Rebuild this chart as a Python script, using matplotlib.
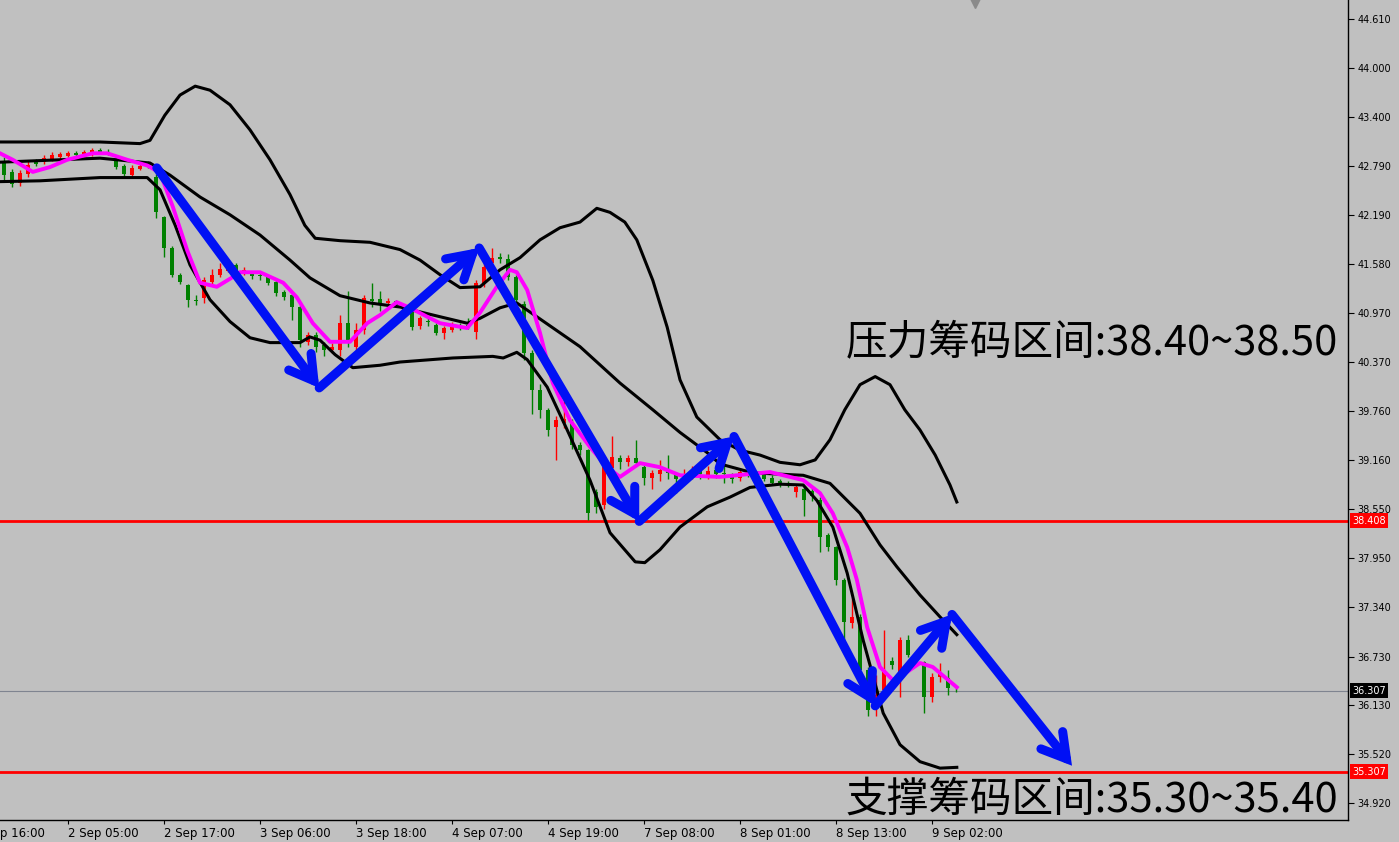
import matplotlib
matplotlib.use("Agg")
from matplotlib import pyplot as plt
from matplotlib import transforms

# H1 candles, bar index 0..119
opens = [42.85, 42.72, 42.58, 42.69, 42.84, 42.84, 42.88, 42.90, 42.92, 42.95,
         42.93, 42.94, 42.99, 42.97, 42.88, 42.79, 42.68, 42.76, 42.82, 42.66,
         42.16, 41.78, 41.45, 41.32, 41.14, 41.16, 41.36, 41.44, 41.50, 41.57,
         41.47, 41.48, 41.45, 41.42, 41.36, 41.24, 41.20, 41.05, 40.62, 40.70,
         40.58, 40.52, 40.52, 40.85, 40.56, 40.77, 41.15, 41.15, 41.10, 41.12,
         41.05, 40.99, 40.81, 40.88, 40.83, 40.73, 40.77, 40.82, 40.83, 40.74,
         41.35, 41.59, 41.67, 41.64, 41.42, 41.09, 40.48, 40.02, 39.78, 39.57,
         39.62, 39.63, 39.34, 39.28, 38.76, 38.60, 39.06, 39.18, 39.13, 39.18,
         39.07, 38.94, 38.98, 39.05, 38.97, 38.94, 38.97, 39.02, 38.97, 39.03,
         39.00, 38.97, 38.94, 39.00, 38.99, 38.97, 38.94, 38.90, 38.87, 38.76,
         38.80, 38.78, 38.66, 38.23, 38.08, 37.67, 37.14, 37.22, 36.56, 36.10,
         36.31, 36.67, 36.54, 36.93, 36.72, 36.66, 36.23, 36.48, 36.46, 36.32]
highs = [42.90, 42.76, 42.74, 42.86, 42.88, 42.93, 42.96, 42.97, 42.98, 42.98,
         42.99, 43.01, 43.02, 43.00, 42.93, 42.82, 42.80, 42.83, 42.86, 42.70,
         42.18, 41.80, 41.47, 41.34, 41.20, 41.42, 41.52, 41.60, 41.58, 41.60,
         41.54, 41.50, 41.47, 41.44, 41.38, 41.26, 41.22, 41.07, 40.74, 40.74,
         40.62, 40.60, 40.95, 41.25, 40.85, 41.20, 41.35, 41.25, 41.16, 41.14,
         41.08, 41.02, 40.94, 40.92, 40.85, 40.82, 40.86, 40.85, 40.92, 41.38,
         41.62, 41.78, 41.72, 41.70, 41.45, 41.12, 40.52, 40.10, 39.80, 39.70,
         39.93, 39.66, 39.38, 39.30, 38.80, 39.10, 39.45, 39.22, 39.22, 39.40,
         39.10, 39.04, 39.16, 39.22, 39.00, 39.05, 39.08, 39.06, 39.08, 39.10,
         39.12, 39.00, 39.06, 39.04, 39.02, 39.00, 38.97, 38.92, 38.90, 38.86,
         38.84, 38.82, 38.70, 38.26, 38.10, 37.70, 37.45, 37.25, 36.60, 36.50,
         37.06, 36.72, 36.97, 37.00, 36.78, 36.68, 36.52, 36.65, 36.56, 36.34]
lows = [42.62, 42.53, 42.54, 42.66, 42.79, 42.82, 42.86, 42.88, 42.90, 42.91,
        42.91, 42.92, 42.94, 42.93, 42.76, 42.64, 42.64, 42.74, 42.77, 42.15,
        41.67, 41.42, 41.33, 41.05, 41.08, 41.10, 41.33, 41.42, 41.48, 41.45,
        41.45, 41.40, 41.38, 41.32, 41.18, 41.14, 40.89, 40.55, 40.58, 40.50,
        40.45, 40.48, 40.44, 40.55, 40.50, 40.72, 41.05, 41.00, 41.07, 41.05,
        40.95, 40.76, 40.78, 40.82, 40.70, 40.66, 40.74, 40.77, 40.78, 40.66,
        41.30, 41.55, 41.60, 41.38, 41.10, 40.40, 39.73, 39.68, 39.45, 39.16,
        39.55, 39.30, 39.22, 38.42, 38.50, 38.55, 39.02, 39.05, 39.08, 39.08,
        38.85, 38.80, 38.90, 38.93, 38.75, 38.88, 38.92, 38.92, 38.93, 38.94,
        38.88, 38.88, 38.90, 38.95, 38.92, 38.90, 38.85, 38.83, 38.82, 38.70,
        38.47, 38.65, 38.02, 38.04, 37.62, 36.90, 37.08, 36.48, 36.00, 36.00,
        36.25, 36.58, 36.23, 36.72, 36.66, 36.03, 36.17, 36.42, 36.26, 36.29]
closes = [42.68, 42.57, 42.71, 42.81, 42.82, 42.89, 42.93, 42.94, 42.95, 42.93,
          42.96, 42.99, 42.96, 42.95, 42.78, 42.69, 42.77, 42.79, 42.80, 42.22,
          41.78, 41.45, 41.36, 41.14, 41.12, 41.38, 41.44, 41.52, 41.55, 41.50,
          41.51, 41.43, 41.43, 41.35, 41.22, 41.17, 41.05, 40.64, 40.70, 40.56,
          40.52, 40.55, 40.85, 40.60, 40.77, 41.16, 41.12, 41.08, 41.13, 41.08,
          40.99, 40.80, 40.91, 40.86, 40.73, 40.79, 40.83, 40.80, 40.80, 41.35,
          41.55, 41.66, 41.64, 41.42, 41.14, 40.48, 40.02, 39.78, 39.53, 39.65,
          39.66, 39.34, 39.28, 38.50, 38.58, 39.07, 39.20, 39.13, 39.18, 39.12,
          38.94, 39.00, 39.04, 39.00, 38.92, 38.97, 39.01, 38.98, 39.02, 38.99,
          38.98, 38.93, 39.01, 38.98, 38.95, 38.93, 38.88, 38.86, 38.85, 38.82,
          38.67, 38.71, 38.21, 38.08, 37.67, 37.16, 37.22, 36.56, 36.07, 36.25,
          36.56, 36.62, 36.93, 36.75, 36.70, 36.23, 36.48, 36.52, 36.34, 36.31]

# Bollinger bands (bar, price)
upper_x = [-0.5, 4.5, 12, 17, 18.25, 20.1, 22, 23.9, 25.75, 28.25, 30.75, 33.25,
           35.75, 37.6, 38.9, 42, 45.75, 49.5, 52, 54.5, 57, 59.5, 62, 64.5, 67,
           69.5, 72, 74.1, 75.75, 77.6, 79.1, 81.1, 82.9, 84.5, 86.6, 89.5, 92,
           94.5, 97, 99.5, 101.4, 103.25, 105.1, 107, 108.9, 110.75, 112.6,
           114.5, 116.4, 118.25, 119.1]
upper_y = [43.09, 43.09, 43.09, 43.07, 43.11, 43.42, 43.67, 43.78, 43.73, 43.55,
           43.24, 42.87, 42.44, 42.06, 41.90, 41.87, 41.85, 41.76, 41.63, 41.45,
           41.29, 41.30, 41.51, 41.66, 41.88, 42.03, 42.10, 42.27, 42.22, 42.10,
           41.88, 41.38, 40.80, 40.15, 39.69, 39.41, 39.28, 39.22, 39.13, 39.10,
           39.16, 39.41, 39.78, 40.09, 40.19, 40.09, 39.78, 39.53, 39.22, 38.85,
           38.64]
middle_x = [-0.5, 4.5, 12, 18.25, 20.75, 24.5, 28.25, 32, 35.75, 38.25, 42,
            45.75, 49.5, 54.5, 57.9, 59.5, 62, 64.1, 66.6, 72, 77, 81.1, 84.5,
            87.9, 89.5, 93.6, 99.9, 103.25, 107, 109.5, 111.6, 114.5, 117, 119.1]
middle_y = [42.84, 42.86, 42.89, 42.83, 42.68, 42.41, 42.19, 41.94, 41.63, 41.41,
            41.19, 41.10, 41.05, 40.93, 40.85, 40.91, 41.04, 41.10, 40.93, 40.56,
            40.11, 39.78, 39.50, 39.25, 39.11, 39.00, 38.97, 38.87, 38.50, 38.11,
            37.84, 37.49, 37.22, 37.00]
lower_x = [-0.5, 4.5, 12, 17.9, 19.5, 21.4, 23.25, 25.75, 28.25, 30.75, 33.25, 37,
           38.25, 39.5, 41.4, 43.6, 47, 49.5, 56.1, 61.1, 62.4, 64.1, 65.4, 67.9,
           70.4, 73.25, 75.75, 78.9, 80.1, 82, 84.5, 87.9, 90.75, 93.25, 97,
           99.9, 101.6, 103.6, 105.4, 107.4, 109.9, 112, 114.5, 117, 119.1]
lower_y = [42.60, 42.61, 42.65, 42.65, 42.50, 42.06, 41.57, 41.14, 40.87, 40.67,
           40.61, 40.61, 40.68, 40.64, 40.46, 40.30, 40.33, 40.37, 40.42, 40.44,
           40.42, 40.49, 40.40, 40.06, 39.53, 38.91, 38.26, 37.90, 37.89, 38.05,
           38.33, 38.58, 38.70, 38.82, 38.86, 38.85, 38.66, 38.33, 37.76, 36.93,
           36.03, 35.64, 35.43, 35.35, 35.36]

# magenta moving average
ma_x = [-0.5, 1.1, 3.6, 5.75, 7.9, 11.1, 12.9, 15.4, 17.9, 19.5, 21.1, 22.9,
        24.5, 26.6, 28.6, 29.5, 32, 34.9, 36.6, 38.6, 40.75, 43.25, 45.4, 47,
        49.1, 50.75, 52.9, 54.5, 57.9, 59.5, 61.6, 63.25, 64.1, 65.4, 67, 68.6,
        70.75, 73.25, 75.4, 77, 79.5, 82, 84.5, 89.5, 95.75, 99.9, 102, 103.6,
        105.4, 106.6, 107.9, 109.5, 111.1, 112.9, 114.5, 116.1, 119.1]
ma_y = [42.95, 42.87, 42.72, 42.78, 42.87, 42.95, 42.95, 42.87, 42.80, 42.71,
        42.29, 41.75, 41.35, 41.30, 41.42, 41.48, 41.48, 41.35, 41.17, 40.85,
        40.62, 40.62, 40.85, 40.95, 41.11, 41.04, 40.93, 40.85, 40.79, 40.98,
        41.30, 41.51, 41.48, 41.26, 40.73, 40.11, 39.65, 39.32, 39.07, 38.95,
        39.12, 39.07, 38.97, 38.95, 39.01, 38.91, 38.75, 38.50, 38.08, 37.68,
        37.09, 36.60, 36.44, 36.54, 36.65, 36.60, 36.35]

# hand drawn wave arrows
wave_x = [19.1, 39.4, 59.4, 79.4, 91.25, 108.9, 118.5, 133.5]
wave_y = [42.77, 40.05, 41.78, 38.40, 39.45, 36.12, 37.25, 35.38]

price_ticks = [44.610, 44.000, 43.400, 42.790, 42.190, 41.580, 40.970, 40.370,
               39.760, 39.160, 38.550, 37.950, 37.340, 36.730, 36.130, 35.520,
               34.920]
time_ticks = [-4, 8, 20, 32, 44, 56, 68, 80, 92, 104, 116]
time_labels = ["1 Sep 16:00", "2 Sep 05:00", "2 Sep 17:00", "3 Sep 06:00",
               "3 Sep 18:00", "4 Sep 07:00", "4 Sep 19:00", "7 Sep 08:00",
               "8 Sep 01:00", "8 Sep 13:00", "9 Sep 02:00"]

resistance = 38.408
support = 35.307
last_price = 36.307
text_res = "压力筹码区间:38.40~38.50"
text_sup = "支撑筹码区间:35.30~35.40"

BG = "#c0c0c0"
UP = "#ff0000"
DOWN = "#008000"
BLUE = "#0010f5"
NARROW = ["Liberation Sans Narrow", "DejaVu Sans"]


def draw_candles(ax):
    for i in range(len(opens)):
        o, h, l, c = opens[i], highs[i], lows[i], closes[i]
        col = UP if c >= o else DOWN
        ax.vlines(i, l, h, color=col, lw=1.0, zorder=2)
        body = max(abs(c - o), 0.012)
        ax.bar(i, body, bottom=min(o, c), width=0.62, color=col,
               linewidth=0, zorder=2)


def draw_waves(ax):
    for k in range(len(wave_x) - 1):
        ax.annotate("", xy=(wave_x[k + 1], wave_y[k + 1]),
                    xytext=(wave_x[k], wave_y[k]),
                    arrowprops=dict(arrowstyle="->,head_length=0.85,head_width=0.5",
                                    color=BLUE, lw=6.5, mutation_scale=20,
                                    shrinkA=0, shrinkB=0, capstyle="round",
                                    joinstyle="miter"),
                    zorder=5, annotation_clip=False)


def main():
    fig = plt.figure(figsize=(13.99, 8.42), dpi=100, facecolor=BG)
    ax = fig.add_axes([0, 22 / 842, 1348 / 1399, 820 / 842], facecolor=BG)

    draw_candles(ax)
    ax.plot(upper_x, upper_y, color="black", lw=2.2, zorder=3)
    ax.plot(middle_x, middle_y, color="black", lw=2.2, zorder=3)
    ax.plot(lower_x, lower_y, color="black", lw=2.2, zorder=3)
    ax.plot(ma_x, ma_y, color="#ff00ff", lw=2.8, zorder=4)

    ax.axhline(resistance, color="#ff0000", lw=2.0, zorder=1)
    ax.axhline(support, color="#ff0000", lw=2.0, zorder=1)
    ax.axhline(last_price, color="#7f8490", lw=0.8, zorder=1)

    draw_waves(ax)

    cjk = ["Noto Sans CJK SC", "DejaVu Sans"]
    ax.text(0.9926, 0.582, text_res, transform=ax.transAxes, ha="right",
            va="center", fontsize=30, family=cjk, weight="medium",
            color="black", zorder=6)
    ax.text(0.9926, 0.024, text_sup, transform=ax.transAxes, ha="right",
            va="center", fontsize=30, family=cjk, weight="medium",
            color="black", zorder=6)

    # axes styling, MT4 like
    for side in ["left", "top"]:
        ax.spines[side].set_visible(False)
    ax.spines["right"].set_linewidth(1.0)
    ax.spines["bottom"].set_linewidth(1.0)
    ax.yaxis.tick_right()
    ax.set_yticks(price_ticks)
    ax.set_yticklabels(["%.3f" % p for p in price_ticks])
    ax.tick_params(axis="y", direction="out", length=4, labelsize=7, pad=3)
    ax.set_xticks(time_ticks[1:])
    ax.set_xticklabels(time_labels[1:], ha="left", family=NARROW)
    ax.tick_params(axis="x", direction="out", length=3, labelsize=8.5, pad=2)
    # limits last, set_ticks would widen them
    ax.set_xlim(-0.5, 168)
    ax.set_ylim(34.709, 44.845)

    # first time label sits left of the chart and is cut by the edge
    ax.text(time_ticks[0] + 0.25, -0.0085, time_labels[0],
            transform=ax.get_xaxis_transform(), ha="left", va="top",
            fontsize=8.5, family=NARROW, clip_on=False)

    tr = transforms.blended_transform_factory(ax.transAxes, ax.transData)
    for val, fc in [(resistance, "#ff0000"), (last_price, "black"),
                    (support, "#ff0000")]:
        ax.text(1.003, val, "%.3f" % val, transform=tr, ha="left", va="center",
                fontsize=7, color="white", zorder=7, clip_on=False,
                bbox=dict(boxstyle="square,pad=0.25", fc=fc, ec="none"))

    ax.plot([121.4], [44.82], marker="v", color="#8a8a8a", ms=8,
            clip_on=False, zorder=6)

    fig.savefig("out.png", dpi=100, facecolor=BG)


if __name__ == "__main__":
    main()
